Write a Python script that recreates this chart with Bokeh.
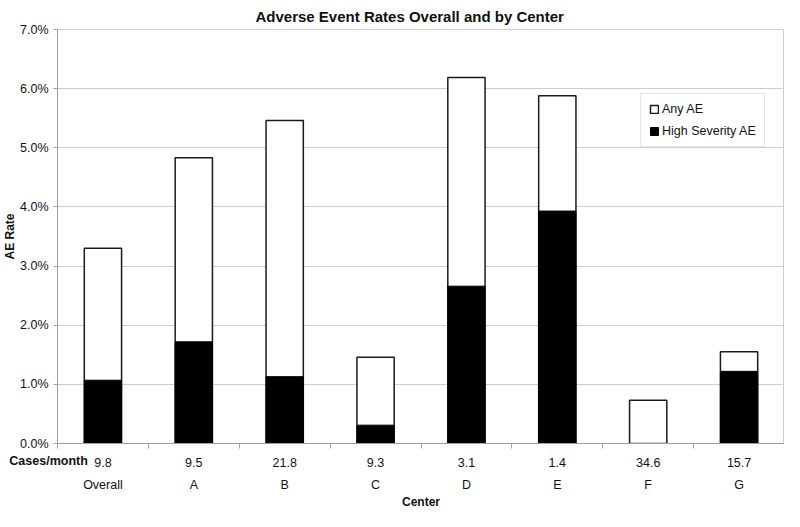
from bokeh.plotting import figure
from bokeh.models import (Range1d, LinearAxis, FixedTicker,
                          PrintfTickFormatter, Legend, LegendItem, Label, ColumnDataSource)
from bokeh.embed import file_html
from bokeh.resources import INLINE

# ---- data ----
centers = ["Overall", "A", "B", "C", "D", "E", "F", "G"]
cases_per_month = ["9.8", "9.5", "21.8", "9.3", "3.1", "1.4", "34.6", "15.7"]
any_ae = [3.30, 4.83, 5.46, 1.46, 6.19, 5.88, 0.73, 1.55]
high_sev_ae = [1.07, 1.72, 1.13, 0.31, 2.66, 3.93, 0.0, 1.22]
y_ticks = [0, 1, 2, 3, 4, 5, 6, 7]

FONT = "Liberation Sans"
TXT = "#111111"
GRID = "#cdcdcd"
AXC = "#a0a0a0"

n = len(centers)
slot = [i + 0.5 for i in range(n)]          # category slot centres on the x scale
bounds = list(range(n + 1))                  # category slot boundaries
src = ColumnDataSource(dict(slot=slot, center=centers, any_ae=any_ae, high=high_sev_ae))

p = figure(width=784, height=511,
           x_range=Range1d(0, n),
           y_range=Range1d(y_ticks[0], y_ticks[-1]),
           output_backend="svg", toolbar_location=None,
           x_axis_location=None,
           min_border_left=49, min_border_right=0, min_border_top=20, min_border_bottom=60,
           background_fill_color="white", border_fill_color="white")

p.title.text = "Adverse Event Rates Overall and by Center"
p.title.text_font = FONT
p.title.text_font_size = "15px"
p.title.text_font_style = "bold"
p.title.text_color = TXT
p.title.align = "left"
p.title.offset = 198
p.title.standoff = 10

p.outline_line_color = GRID
p.xgrid.visible = False
p.ygrid.grid_line_color = GRID
p.ygrid.ticker = FixedTicker(ticks=y_ticks)

# y axis
yax = p.yaxis[0]
yax.ticker = FixedTicker(ticks=y_ticks)
yax.formatter = PrintfTickFormatter(format="%.1f%%")
yax.minor_tick_line_color = None
yax.major_tick_in = 0
yax.major_tick_out = 4
yax.major_tick_line_color = AXC
yax.axis_line_color = AXC
yax.major_label_text_font = FONT
yax.major_label_text_font_size = "12.5px"
yax.major_label_text_color = TXT
yax.major_label_standoff = 5
yax.axis_label = "AE Rate"
yax.axis_label_text_font = FONT
yax.axis_label_text_font_size = "12px"
yax.axis_label_text_font_style = "bold"
yax.axis_label_text_color = TXT
yax.axis_label_standoff = 0

# bars
r_any = p.vbar(x="slot", top="any_ae", source=src, width=0.41, fill_color="white",
               line_color="#1a1a1a", line_width=1.5)
r_hi = p.vbar(x="slot", top="high", source=src, width=0.41, fill_color="black",
              line_color="black", line_width=1)

# x axes: cases/month row (with category-boundary ticks) and center names
ax1 = LinearAxis(ticker=FixedTicker(ticks=slot, minor_ticks=bounds),
                 major_label_overrides={s: c for s, c in zip(slot, cases_per_month)},
                 major_tick_out=0, major_tick_in=0,
                 minor_tick_out=5, minor_tick_in=0,
                 minor_tick_line_color=AXC,
                 axis_line_color=AXC,
                 major_label_standoff=9,
                 major_label_text_font=FONT, major_label_text_font_size="12.5px",
                 major_label_text_color=TXT)
p.add_layout(ax1, "below")

# row caption for the cases/month row (data units, in the bottom side panel)
p.add_layout(Label(x=-0.53, y=-0.3, x_units="data", y_units="data",
                   text="Cases/month", text_baseline="middle", text_align="left",
                   text_font=FONT, text_font_size="12.5px", text_font_style="bold",
                   text_color=TXT), "below")

ax2 = LinearAxis(ticker=FixedTicker(ticks=slot, minor_ticks=[]),
                 major_label_overrides={s: c for s, c in zip(slot, centers)},
                 major_tick_out=0, major_tick_in=0, minor_tick_out=0, minor_tick_in=0,
                 axis_line_color=None,
                 major_label_standoff=-6,
                 major_label_text_font=FONT, major_label_text_font_size="12.5px",
                 major_label_text_color=TXT,
                 axis_label="Center", axis_label_standoff=0,
                 axis_label_text_font=FONT, axis_label_text_font_size="12px",
                 axis_label_text_font_style="bold", axis_label_text_color=TXT)
p.add_layout(ax2, "below")

legend = Legend(items=[LegendItem(label="Any AE", renderers=[r_any]),
                       LegendItem(label="High Severity AE", renderers=[r_hi])],
                location=(583, 296), orientation="vertical",
                border_line_color=GRID, background_fill_color="white",
                background_fill_alpha=1.0,
                padding=8, spacing=8, margin=0,
                glyph_width=10, glyph_height=10, label_height=12,
                label_standoff=3,
                label_text_font=FONT, label_text_font_size="12.5px",
                label_text_color=TXT)
p.add_layout(legend)

open("out.html", "w").write(file_html(p, INLINE))
